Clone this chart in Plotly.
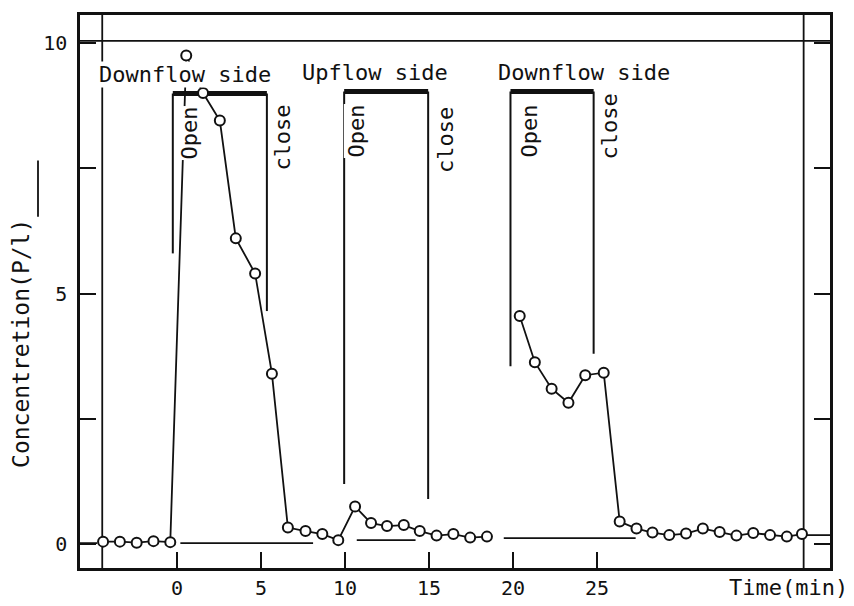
import plotly.graph_objects as go

# ---- data ----
time_min = [-4.4, -3.4, -2.4, -1.4, -0.4, 0.55, 1.55, 2.55, 3.5, 4.65, 5.65,
            6.6, 7.65, 8.65, 9.6, 10.6, 11.55, 12.5, 13.5, 14.45, 15.45, 16.45,
            17.45, 18.45, None,
            20.4, 21.3, 22.3, 23.3, 24.3, 25.4, 26.35, 27.35, 28.3, 29.3, 30.3,
            31.3, 32.3, 33.3, 34.3, 35.3, 36.3, 37.2]
concentration = [0.05, 0.05, 0.03, 0.06, 0.04, 9.75, 9.0, 8.45, 6.1, 5.4, 3.4,
                 0.33, 0.26, 0.2, 0.08, 0.75, 0.42, 0.36, 0.38, 0.26, 0.17, 0.2,
                 0.13, 0.15, None,
                 4.55, 3.63, 3.1, 2.82, 3.37, 3.42, 0.45, 0.31, 0.23, 0.18, 0.21,
                 0.31, 0.24, 0.17, 0.22, 0.18, 0.15, 0.2]

side_labels = ["Downflow side", "Upflow side", "Downflow side"]
open_time = [-0.25, 9.95, 19.85]
close_time = [5.35, 14.95, 24.8]
bar_level = [8.99, 9.03, 9.03]
open_line_bottom = [5.8, 1.2, 3.55]
close_line_bottom = [4.65, 0.9, 3.8]

baseline_start = [-5.8, 0.2, 10.7, 19.45, 37.4]
baseline_end = [-4.75, 8.1, 14.2, 27.3, 38.9]
baseline_level = [0.02, 0.02, 0.08, 0.12, 0.18]

x_tick_vals = [0, 5, 10, 15, 20, 25]
x_tick_text = ["0", "5", "10", "15", "20", "25"]
y_tick_vals = [0, 2.5, 5, 7.5, 10]
y_tick_text = ["0", "", "5", "", "10"]

X_RANGE = [-5.774, 38.869]
Y_RANGE = [-0.476, 10.556]
FONT = "DejaVu Sans Mono"
INK = "#111111"

fig = go.Figure()

# inner frame lines (top reference line at 10 and inner verticals)
fig.add_trace(go.Scatter(
    x=[X_RANGE[0], X_RANGE[1], None, -4.45, -4.45, None, 37.3, 37.3],
    y=[10.04, 10.04, None, Y_RANGE[0], Y_RANGE[1], None, Y_RANGE[0], Y_RANGE[1]],
    mode="lines", line=dict(color=INK, width=1.8), hoverinfo="skip", showlegend=False))

# baseline segments
bx, by = [], []
for s, e, lv in zip(baseline_start, baseline_end, baseline_level):
    bx += [s, e, None]
    by += [lv, lv, None]
fig.add_trace(go.Scatter(x=bx, y=by, mode="lines", line=dict(color=INK, width=1.8),
                         hoverinfo="skip", showlegend=False))

# open / close brackets
vx, vy, hx, hy = [], [], [], []
for o, c, b, ob, cb in zip(open_time, close_time, bar_level, open_line_bottom, close_line_bottom):
    vx += [o, o, None, c, c, None]
    vy += [b, ob, None, b, cb, None]
    hx += [o, c, None]
    hy += [b, b, None]
fig.add_trace(go.Scatter(x=vx, y=vy, mode="lines", line=dict(color=INK, width=2),
                         hoverinfo="skip", showlegend=False))
fig.add_trace(go.Scatter(x=hx, y=hy, mode="lines", line=dict(color=INK, width=5),
                         hoverinfo="skip", showlegend=False))

# measured concentration
fig.add_trace(go.Scatter(
    x=time_min, y=concentration, mode="lines+markers",
    line=dict(color=INK, width=1.8),
    marker=dict(symbol="circle", size=10, color="white", line=dict(color=INK, width=2)),
    connectgaps=False, showlegend=False))

annotations = []
side_x = [0.48, 11.8, 24.2]
side_y = [9.37, 9.4, 9.4]
for t, sx, sy in zip(side_labels, side_x, side_y):
    annotations.append(dict(x=sx, y=sy, xref="x", yref="y", text=t, showarrow=False,
                            font=dict(family=FONT, size=22, color=INK),
                            bgcolor="white", borderpad=0,
                            xanchor="center", yanchor="middle"))
open_lbl_x = [0.77, 10.71, 21.0]
open_lbl_y = [8.21, 8.25, 8.25]
close_lbl_x = [6.31, 15.95, 25.77]
close_lbl_y = [8.11, 8.06, 8.33]
for ox, oy in zip(open_lbl_x, open_lbl_y):
    annotations.append(dict(x=ox, y=oy, xref="x", yref="y", text="Open", showarrow=False,
                            textangle=-90, font=dict(family=FONT, size=22, color=INK),
                            bgcolor="white", borderpad=0,
                            xanchor="center", yanchor="middle"))
for cx, cy in zip(close_lbl_x, close_lbl_y):
    annotations.append(dict(x=cx, y=cy, xref="x", yref="y", text="close", showarrow=False,
                            textangle=-90, font=dict(family=FONT, size=22, color=INK),
                            bgcolor="white", borderpad=0,
                            xanchor="center", yanchor="middle"))
# axis titles
annotations.append(dict(x=0.944, y=-0.036, xref="paper", yref="paper", text="Time(min)",
                        showarrow=False, font=dict(family=FONT, size=22, color=INK),
                        xanchor="center", yanchor="middle"))
annotations.append(dict(x=-0.079, y=0.4065, xref="paper", yref="paper",
                        text="Concentretion(P/l)", textangle=-90, showarrow=False,
                        font=dict(family=FONT, size=23, color=INK),
                        xanchor="center", yanchor="middle"))

# the page adds an 8 px body margin, so the figure is 8 px smaller and margins shifted
fig.update_layout(
    width=846, height=598,
    margin=dict(l=72, r=24, t=4, b=38),
    paper_bgcolor="white", plot_bgcolor="white",
    annotations=annotations,
    shapes=[dict(type="line", xref="paper", yref="paper", x0=-0.056, x1=-0.056,
                 y0=0.635, y1=0.737, line=dict(color=INK, width=1.8))],
    xaxis=dict(range=X_RANGE, showgrid=False, zeroline=False, showline=True,
               mirror=True, linecolor=INK, linewidth=2.5,
               ticks="inside", ticklen=16, tickwidth=2, tickcolor=INK,
               tickvals=x_tick_vals, ticktext=x_tick_text,
               tickfont=dict(family=FONT, size=20, color=INK)),
    yaxis=dict(range=Y_RANGE, showgrid=False, zeroline=False, showline=True,
               mirror="ticks", linecolor=INK, linewidth=2.5,
               ticks="inside", ticklen=16, tickwidth=2, tickcolor=INK,
               tickvals=y_tick_vals, ticktext=y_tick_text, ticklabelstandoff=6,
               tickfont=dict(family=FONT, size=20, color=INK)),
)

fig.write_html("out.html")
